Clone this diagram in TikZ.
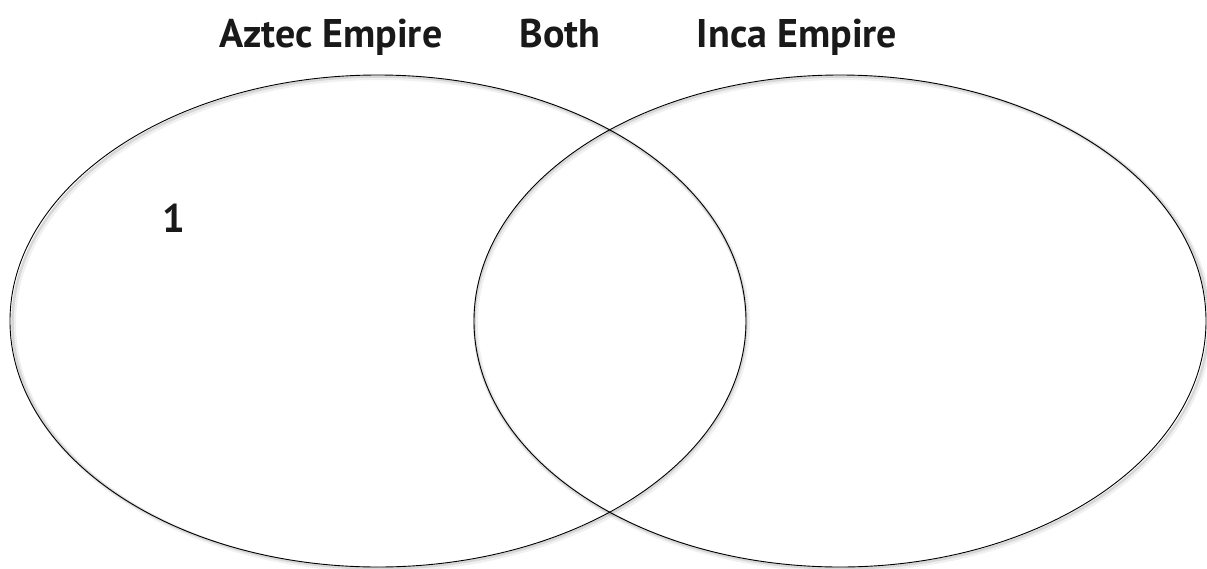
\documentclass[tikz,border=0pt]{standalone}
\usepackage{fontspec}
\setmainfont{PT Sans}
\usetikzlibrary{shapes.geometric}
\begin{document}
\begin{tikzpicture}[x=1pt,y=-1pt,
  lbl/.style={font=\bfseries\fontsize{40}{44}\selectfont, text=black!90, anchor=base, inner sep=0pt},
  ring/.style={draw=black, line width=0.9pt},
  shade1/.style={draw=black, opacity=0.06, line width=5pt},
  shade2/.style={draw=black, opacity=0.10, line width=2.5pt}]
\useasboundingbox (0,0) rectangle (1207,568);
\fill[white] (0,0) rectangle (1207,568);
% shadows
\foreach \cx in {378,840}{
  \draw[shade1] (\cx+2.5,323.5) ellipse [x radius=367, y radius=246];
  \draw[shade2] (\cx+1.5,322.5) ellipse [x radius=367, y radius=246];
}
\node[ring, ellipse, minimum width=736pt, minimum height=492pt, inner sep=0pt] (aztec) at (378,321) {};
\node[ring, ellipse, minimum width=732pt, minimum height=492pt, inner sep=0pt] (inca) at (840,321) {};
\node[lbl] (ta) at (331,47) {Aztec Empire};
\node[lbl] (tb) at (560,47) {Both};
\node[lbl] (ti) at (797,47) {Inca Empire};
\node[lbl] (one) at (174,232) {1};
\end{tikzpicture}
\end{document}
